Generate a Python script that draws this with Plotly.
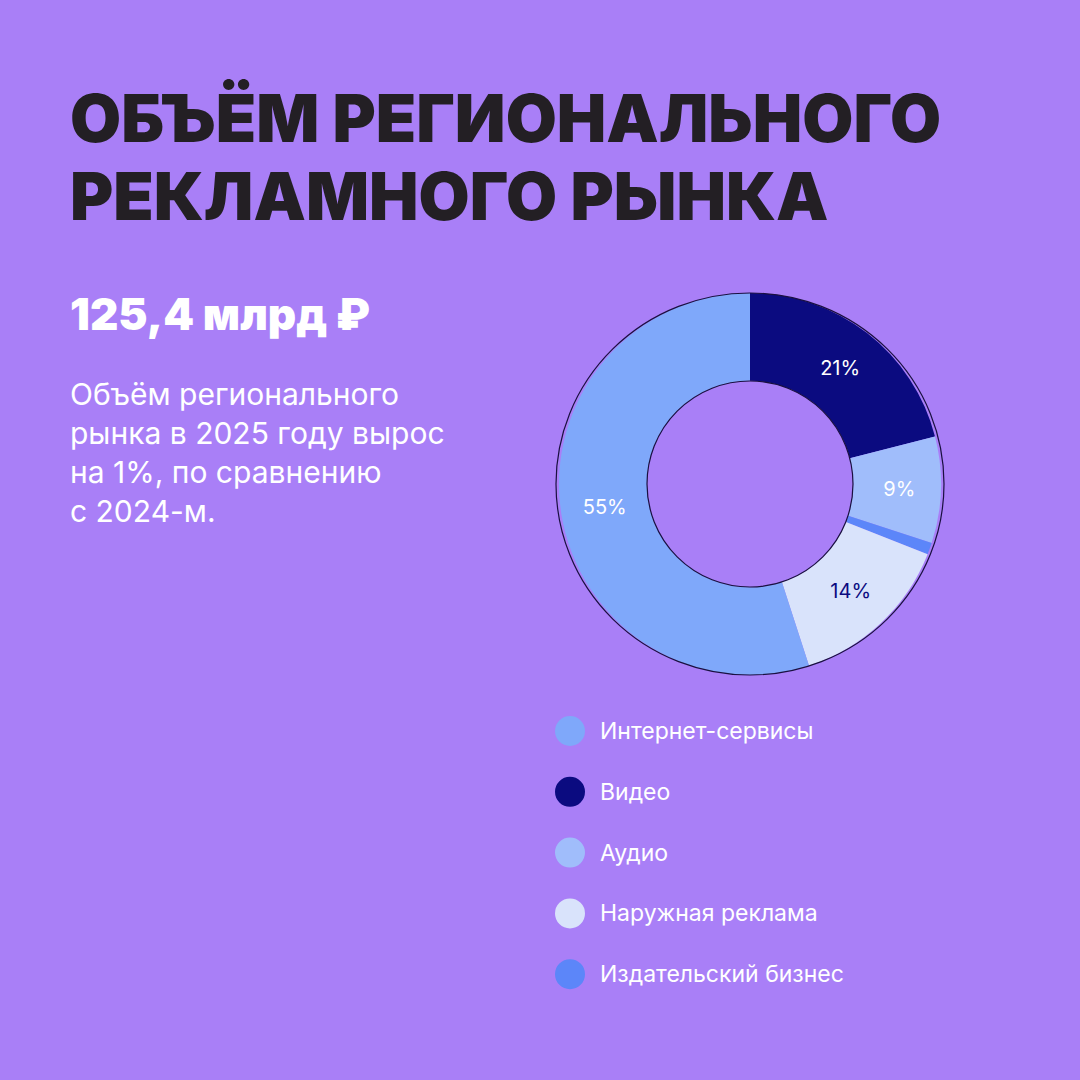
import plotly.graph_objects as go

labels = ["Видео", "Аудио", "Издательский бизнес", "Наружная реклама", "Интернет-сервисы"]
values = [21, 9, 1, 14, 55]
colors = ["#0B0B80", "#A0BDFB", "#5C86F9", "#D9E3FB", "#7FA8FA"]
text_labels = ["21%", "9%", "", "14%", "55%"]
text_colors = ["white", "white", "white", "#0B0B80", "white"]

legend_labels = ["Интернет-сервисы", "Видео", "Аудио", "Наружная реклама", "Издательский бизнес"]
legend_colors = ["#7FA8FA", "#0B0B80", "#A0BDFB", "#D9E3FB", "#5C86F9"]

W = H = 1080
BG = "#A97FF7"

fig = go.Figure(go.Pie(
    labels=labels, values=values, sort=False, direction="clockwise", rotation=0,
    hole=0.54, text=text_labels, textinfo="text", textposition="inside",
    insidetextorientation="horizontal",
    textfont=dict(family="Inter", size=20, color=text_colors),
    marker=dict(colors=colors, line=dict(width=0)),
    domain=dict(x=[556/W, 944/W], y=[1-675/H, 1-293/H]),
    showlegend=False,
))

def px(x): return x / W
def py(y): return 1 - y / H

shapes = [
    dict(type="circle", xref="paper", yref="paper", x0=px(556), x1=px(944), y0=py(675), y1=py(293),
         line=dict(color="#1A1040", width=1.2)),
    dict(type="circle", xref="paper", yref="paper", x0=px(647), x1=px(853), y0=py(587), y1=py(381),
         line=dict(color="#1A1040", width=1.2)),
]
ann = []
for i, (lab, col) in enumerate(zip(legend_labels, legend_colors)):
    yc = 731 + i * 60.8
    shapes.append(dict(type="circle", xref="paper", yref="paper", x0=px(555), x1=px(585),
                       y0=py(yc + 15), y1=py(yc - 15), fillcolor=col, line=dict(width=0)))
    ann.append(dict(x=px(598), y=py(yc), xref="paper", yref="paper", text=lab, showarrow=False,
                    xanchor="left", yanchor="middle", font=dict(family="Inter", size=23, color="white")))

ann += [
    dict(x=px(68), y=py(118), xref="paper", yref="paper", text="ОБЪЁМ РЕГИОНАЛЬНОГО",
         showarrow=False, xanchor="left", yanchor="middle",
         font=dict(family="Inter", size=66, color="#231F24", weight=900)),
    dict(x=px(68), y=py(196), xref="paper", yref="paper", text="РЕКЛАМНОГО РЫНКА",
         showarrow=False, xanchor="left", yanchor="middle",
         font=dict(family="Inter", size=66, color="#231F24", weight=900)),
    dict(x=px(68), y=py(314), xref="paper", yref="paper", text="125,4 млрд ₽",
         showarrow=False, xanchor="left", yanchor="middle",
         font=dict(family="Inter", size=44, color="white", weight=900)),
    dict(x=px(68), y=py(452), xref="paper", yref="paper",
         text="Объём регионального<br>рынка в 2025 году вырос<br>на 1%, по сравнению<br>с 2024-м.",
         showarrow=False, xanchor="left", yanchor="middle", align="left",
         font=dict(family="Inter", size=30, color="white")),
]

fig.update_layout(width=W, height=H, margin=dict(l=0, r=0, t=0, b=0),
                  paper_bgcolor=BG, plot_bgcolor=BG, shapes=shapes, annotations=ann)
fig.write_html("out.html", config=dict(displayModeBar=False),
               post_script="document.body.style.margin='0';document.body.style.background='%s';" % BG)
